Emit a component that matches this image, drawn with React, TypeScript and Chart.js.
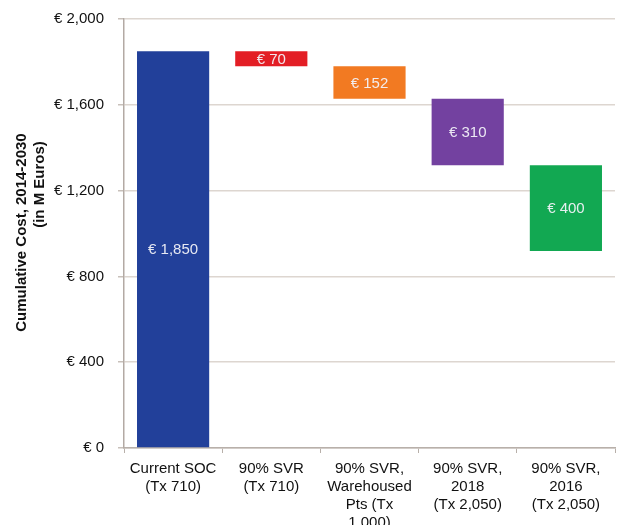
import React, { useEffect, useRef } from "react";
import { Chart, registerables } from "chart.js";

Chart.register(...registerables);

// Scenario categories (multi-line axis labels)
const categories: string[][] = [
  ["Current SOC", "(Tx 710)"],
  ["90% SVR", "(Tx 710)"],
  ["90% SVR,", "Warehoused", "Pts (Tx", "1,000)"],
  ["90% SVR,", "2018", "(Tx 2,050)"],
  ["90% SVR,", "2016", "(Tx 2,050)"],
];

// Starting cumulative cost and the successive savings (M Euros)
const startingCost = 1850;
const savings = [70, 152, 310, 400];

const barColors = ["#22409A", "#E31E25", "#F27A22", "#7341A0", "#12A852"];

const yTicks = [0, 400, 800, 1200, 1600, 2000];

const titleLines = ["Cumulative Cost, 2014-2030", "(in M Euros)"];

const fmt = (v: number) => "€ " + v.toLocaleString("en-US");

// Waterfall ranges: first bar is the full total, then each saving floats below the previous one
function buildRanges(): [number, number][] {
  const ranges: [number, number][] = [[0, startingCost]];
  let top = startingCost;
  for (const s of savings) {
    ranges.push([top - s, top]);
    top -= s;
  }
  return ranges;
}

const valueLabels = {
  id: "valueLabels",
  afterDatasetsDraw(chart: any) {
    const ctx = chart.ctx;
    const meta = chart.getDatasetMeta(0);
    const data = chart.data.datasets[0].data as [number, number][];
    ctx.save();
    ctx.font = "15px 'Liberation Sans', Arial, sans-serif";
    ctx.fillStyle = "rgba(242,242,248,0.95)";
    ctx.textAlign = "center";
    ctx.textBaseline = "middle";
    meta.data.forEach((bar: any, i: number) => {
      const [lo, hi] = data[i];
      const cy = (bar.y + bar.base) / 2;
      ctx.fillText(fmt(hi - lo), bar.x, cy + 1);
    });
    ctx.restore();
  },
};

const yTitle = {
  id: "yTitle",
  afterDraw(chart: any) {
    const ctx = chart.ctx;
    const { top, bottom } = chart.chartArea;
    const mid = (top + bottom) / 2;
    ctx.save();
    ctx.font = "bold 15px 'Liberation Sans', Arial, sans-serif";
    ctx.fillStyle = "#111";
    ctx.textAlign = "center";
    ctx.textBaseline = "middle";
    const spots = [
      { x: 22, y: mid - 1 },
      { x: 40, y: mid - 49 },
    ];
    titleLines.forEach((line, i) => {
      ctx.save();
      ctx.translate(spots[i].x, spots[i].y);
      ctx.rotate(-Math.PI / 2);
      ctx.fillText(line, 0, 0);
      ctx.restore();
    });
    ctx.restore();
  },
};

export default function App() {
  const canvasRef = useRef<HTMLCanvasElement | null>(null);

  useEffect(() => {
    document.body.style.margin = "0";
    const canvas = canvasRef.current;
    if (!canvas) return;
    const chart = new Chart(canvas, {
      type: "bar",
      data: {
        labels: categories,
        datasets: [
          {
            data: buildRanges() as any,
            backgroundColor: barColors,
            borderWidth: 0,
            barPercentage: 0.735,
            categoryPercentage: 1,
          },
        ],
      },
      options: {
        responsive: false,
        animation: false,
        devicePixelRatio: 1,
        layout: { padding: { top: 19, right: 2, left: 0, bottom: 0 } },
        plugins: {
          legend: { display: false },
          tooltip: { enabled: false },
        },
        scales: {
          x: {
            afterFit(scale: any) {
              scale.height = 77;
            },
            grid: {
              offset: true,
              drawOnChartArea: false,
              drawTicks: true,
              tickLength: 5,
              color: "#b8b0aa",
            },
            border: { display: true, color: "#b8b0aa", width: 1.5 },
            ticks: {
              padding: 7,
              color: "#111",
              font: { family: "'Liberation Sans', Arial, sans-serif", size: 15, lineHeight: 1.2 },
              maxRotation: 0,
              autoSkip: false,
            },
          },
          y: {
            min: yTicks[0],
            max: yTicks[yTicks.length - 1],
            afterFit(scale: any) {
              scale.width = 124;
              // the layout padding already leaves room for the end labels
              scale.paddingTop = 0;
              scale.paddingBottom = 0;
            },
            afterBuildTicks(scale: any) {
              scale.ticks = yTicks.map((v) => ({ value: v }));
            },
            grid: {
              color: "#ddd6d0",
              lineWidth: 1.5,
              drawTicks: true,
              tickLength: 6,
              tickColor: "#c8c0ba",
            },
            border: { display: true, color: "#b3aaa4", width: 1.5 },
            ticks: {
              padding: 14,
              color: "#111",
              font: { family: "'Liberation Sans', Arial, sans-serif", size: 15 },
              callback: (v: any) => fmt(Number(v)),
            },
          },
        },
      },
      plugins: [valueLabels, yTitle],
    });
    return () => chart.destroy();
  }, []);

  return (
    <div style={{ position: "absolute", left: 0, top: 0, width: 617, height: 525, background: "#fff" }}>
      <canvas ref={canvasRef} width={617} height={525} style={{ display: "block" }} />
    </div>
  );
}
